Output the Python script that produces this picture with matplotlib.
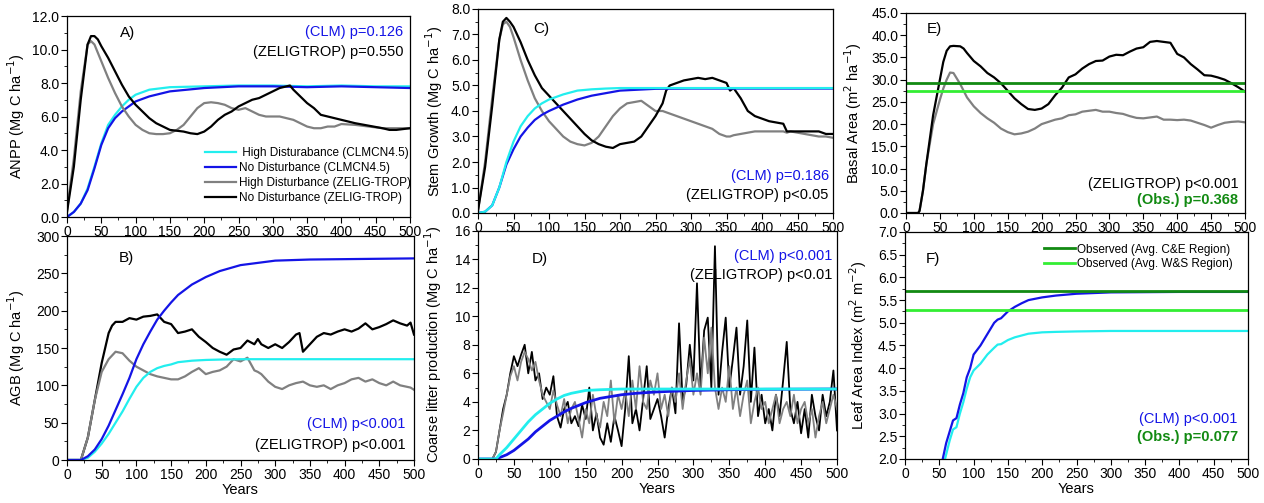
import numpy as np
import matplotlib.pyplot as plt
from matplotlib.ticker import MultipleLocator, FormatStrFormatter

plt.rcParams['font.family'] = ['Liberation Sans', 'DejaVu Sans']
plt.rcParams['font.size'] = 10

# colores de las series
c_cyan = '#22eeee'
c_blue = '#1414e6'
c_gray = '#808080'
c_black = '#000000'
c_dkgreen = '#128a12'
c_ltgreen = '#33ee33'

# ---------------- A) ANPP ----------------
a_yr_clm = [0, 10, 20, 30, 40, 50, 60, 70, 80, 90, 100, 120, 150, 200, 250, 300, 350, 400, 450, 500]
a_hi_clm = [0.0, 0.3, 0.8, 1.7, 3.0, 4.4, 5.5, 6.1, 6.6, 7.0, 7.3, 7.6, 7.75, 7.8, 7.85, 7.85, 7.8, 7.85, 7.8, 7.8]
a_no_clm = [0.0, 0.3, 0.8, 1.6, 2.9, 4.3, 5.3, 5.9, 6.3, 6.6, 6.9, 7.2, 7.5, 7.7, 7.8, 7.8, 7.75, 7.8, 7.75, 7.7]
a_yr_zel = [0, 10, 20, 30, 35, 40, 45, 50, 60, 70, 80, 90, 100, 110, 120, 130, 140, 150, 160, 170,
            180, 190, 200, 210, 220, 230, 240, 250, 260, 270, 280, 290, 300, 310, 320, 325, 330, 340,
            350, 360, 370, 380, 390, 400, 420, 440, 460, 470, 480, 500]
a_hi_zel = [0.4, 3.5, 7.5, 10.3, 10.5, 10.3, 9.8, 9.3, 8.3, 7.4, 6.6, 6.0, 5.5, 5.2, 5.0, 4.95, 4.95, 5.0, 5.2, 5.5,
            6.0, 6.5, 6.8, 6.85, 6.8, 6.7, 6.5, 6.4, 6.5, 6.3, 6.1, 6.0, 6.0, 6.0, 5.9, 5.85, 5.8, 5.6,
            5.4, 5.3, 5.3, 5.4, 5.4, 5.55, 5.5, 5.4, 5.3, 5.3, 5.3, 5.3]
a_no_zel = [0.3, 3.0, 7.0, 10.3, 10.8, 10.8, 10.6, 10.2, 9.5, 8.7, 7.9, 7.2, 6.7, 6.3, 5.9, 5.6, 5.4, 5.2, 5.15, 5.1,
            5.0, 4.95, 5.1, 5.4, 5.8, 6.1, 6.3, 6.6, 6.8, 7.0, 7.1, 7.3, 7.5, 7.7, 7.8, 7.85, 7.6, 7.2,
            6.8, 6.5, 6.1, 6.0, 5.9, 5.8, 5.6, 5.45, 5.3, 5.2, 5.2, 5.3]

# ---------------- B) AGB ----------------
b_yr_clm = [0, 20, 30, 40, 50, 60, 70, 80, 90, 100, 110, 120, 130, 140, 150, 160, 180, 200, 220, 250, 300, 350, 400, 500]
b_no_clm = [0, 0, 5, 14, 28, 46, 67, 88, 110, 135, 155, 172, 188, 200, 211, 221, 235, 245, 253, 261, 267, 268.5, 269, 270]
b_hi_clm = [0, 0, 3, 11, 22, 35, 50, 65, 82, 98, 110, 118, 123, 126, 128, 131, 133, 134, 134.5, 135, 135, 135, 135, 135]
b_yr_zel = [0, 20, 30, 40, 50, 60, 65, 70, 80, 90, 100, 110, 120, 130, 140, 150, 160, 170, 180, 190,
            200, 210, 220, 230, 240, 250, 260, 270, 275, 280, 290, 300, 310, 320, 330, 335, 340, 350, 360, 370,
            380, 390, 400, 410, 420, 430, 440, 450, 460, 470, 480, 490, 495, 500]
b_no_zel = [0, 0, 30, 80, 130, 170, 180, 185, 185, 190, 188, 192, 193, 195, 185, 182, 170, 172, 175, 165,
            158, 150, 145, 141, 148, 150, 160, 155, 162, 155, 150, 155, 150, 158, 168, 170, 145, 155, 165, 170,
            168, 172, 175, 172, 176, 183, 175, 178, 182, 187, 183, 180, 184, 168]
b_hi_zel = [0, 0, 30, 80, 118, 135, 140, 145, 143, 133, 125, 120, 115, 112, 110, 108, 108, 112, 118, 123,
            115, 118, 120, 125, 135, 132, 137, 120, 118, 115, 105, 98, 95, 100, 103, 104, 105, 100, 98, 100,
            95, 100, 103, 108, 110, 105, 108, 103, 100, 105, 100, 98, 97, 94]

# ---------------- C) Stem growth ----------------
c_yr_clm = [0, 10, 20, 30, 40, 50, 60, 70, 80, 90, 100, 120, 140, 160, 180, 200, 250, 300, 350, 400, 450, 500]
c_hi_clm = [0, 0.05, 0.3, 1.0, 2.0, 2.8, 3.4, 3.8, 4.1, 4.3, 4.45, 4.65, 4.8, 4.85, 4.88, 4.9, 4.9, 4.9, 4.9, 4.9, 4.9, 4.9]
c_no_clm = [0, 0.05, 0.3, 1.0, 1.9, 2.5, 3.0, 3.35, 3.65, 3.85, 4.0, 4.25, 4.45, 4.6, 4.7, 4.8, 4.87, 4.88, 4.88, 4.88, 4.88, 4.88]
c_yr_zel = [0, 10, 20, 30, 35, 40, 45, 50, 60, 70, 80, 90, 100, 110, 120, 130, 140, 150, 160, 170,
            180, 190, 200, 210, 220, 230, 240, 250, 260, 265, 270, 280, 290, 300, 310, 320, 330, 340, 350, 355,
            360, 370, 380, 390, 400, 410, 420, 430, 435, 440, 460, 480, 490, 500]
c_hi_zel = [0.1, 2.0, 4.5, 6.8, 7.4, 7.5, 7.3, 6.9, 6.0, 5.2, 4.5, 4.0, 3.6, 3.3, 3.0, 2.8, 2.7, 2.65, 2.75, 3.0,
            3.4, 3.8, 4.1, 4.3, 4.35, 4.4, 4.2, 4.0, 4.0, 3.95, 3.9, 3.8, 3.7, 3.6, 3.5, 3.4, 3.3, 3.1, 3.0, 3.0,
            3.05, 3.1, 3.15, 3.2, 3.2, 3.2, 3.2, 3.2, 3.15, 3.2, 3.1, 3.0, 3.0, 2.95]
c_no_zel = [0.1, 1.8, 4.2, 6.8, 7.5, 7.65, 7.5, 7.3, 6.7, 6.0, 5.4, 4.9, 4.6, 4.3, 4.0, 3.7, 3.4, 3.1, 2.85, 2.7,
            2.6, 2.55, 2.7, 2.75, 2.8, 3.0, 3.4, 3.8, 4.3, 4.8, 5.0, 5.1, 5.2, 5.25, 5.3, 5.25, 5.3, 5.2, 5.1, 4.8,
            4.9, 4.5, 4.0, 3.8, 3.7, 3.6, 3.55, 3.5, 3.2, 3.2, 3.2, 3.2, 3.1, 3.1]

# ---------------- D) Coarse litter ----------------
d_yr_clm = [0, 25, 30, 40, 50, 60, 70, 80, 90, 100, 110, 120, 130, 140, 150, 170, 200, 220, 250, 300, 350, 400, 500]
d_hi_clm = [0, 0, 0.3, 0.8, 1.4, 2.0, 2.6, 3.1, 3.5, 3.9, 4.2, 4.45, 4.6, 4.7, 4.8, 4.85, 4.9, 4.9, 4.9, 4.9, 4.9, 4.9, 4.9]
d_no_clm = [0, 0, 0.1, 0.3, 0.6, 1.0, 1.4, 1.9, 2.3, 2.7, 3.0, 3.3, 3.55, 3.75, 3.95, 4.25, 4.5, 4.6, 4.7, 4.8, 4.85, 4.88, 4.9]
d_yr_zel = list(range(0, 501, 5))
d_no_zel = [0, 0, 0, 0, 0, 0.5, 2.0, 3.5, 4.5, 6.0, 7.2, 6.5, 7.3, 8.0, 6.0, 7.5, 5.5, 6.0, 4.2, 5.0,
            4.5, 5.8, 3.0, 2.2, 3.5, 4.0, 2.5, 3.0, 2.3, 3.8, 2.8, 5.0, 2.0, 3.2, 1.5, 1.0, 2.5, 1.2, 3.0, 2.0,
            0.9, 3.5, 7.2, 2.5, 3.5, 2.0, 4.2, 6.5, 2.8, 3.5, 4.2, 3.0, 1.5, 3.5, 5.0, 3.2, 9.5, 4.0, 5.2, 8.0,
            5.5, 12.3, 5.0, 9.0, 9.9, 5.0, 14.9, 4.5, 7.5, 9.9, 5.0, 7.0, 9.2, 4.5, 6.5, 9.7, 4.0, 7.8, 3.0, 4.5,
            2.5, 3.5, 2.0, 4.5, 3.0, 5.5, 8.2, 3.5, 2.5, 4.0, 1.8, 3.5, 1.5, 4.5, 3.0, 2.0, 4.5, 3.0, 4.0, 6.2, 2.0]
d_hi_zel = [0, 0, 0, 0, 0, 0.5, 2.0, 3.2, 4.5, 5.8, 6.5, 5.5, 6.8, 7.5, 7.0, 6.2, 6.8, 5.5, 4.5, 4.0,
            3.5, 4.8, 3.8, 3.0, 4.2, 2.5, 3.5, 4.0, 2.8, 1.5, 3.5, 2.5, 4.5, 3.0, 2.2, 4.0, 3.0, 5.5, 2.5, 4.5,
            3.5, 4.8, 3.0, 5.5, 3.5, 6.5, 4.0, 3.5, 5.5, 4.5, 6.0, 3.5, 4.5, 3.0, 5.0, 4.0, 6.0, 3.5, 5.5, 7.0,
            4.5, 6.0, 4.5, 8.5, 6.0, 9.2, 5.0, 3.5, 5.0, 4.0, 6.5, 3.5, 5.0, 3.0, 4.5, 5.5, 2.5, 4.0, 5.0, 3.5,
            4.0, 2.5, 3.5, 4.5, 2.5, 3.5, 4.0, 3.0, 4.5, 2.5, 3.5, 4.0, 2.5, 3.5, 1.5, 3.0, 4.0, 2.5, 3.5, 4.5, 3.5]

# ---------------- E) Basal area ----------------
e_yr = [0, 18, 20, 25, 30, 40, 50, 55, 60, 65, 70, 80, 85, 90, 100, 110, 120, 130, 140, 150, 160, 170, 180, 190,
        200, 210, 220, 230, 240, 250, 260, 270, 280, 290, 300, 310, 320, 330, 340, 350, 360, 370, 380, 390,
        400, 410, 420, 430, 440, 450, 460, 470, 480, 490, 500]
e_no_zel = [0, 0, 0.5, 5, 11, 22, 30, 34, 36.5, 37.5, 37.6, 37.5, 37, 36, 34.2, 33, 31.5, 30.5, 29.2, 27.5, 25.8, 24.5, 23.4, 23.2,
            23.5, 24.5, 26.5, 28.2, 30.5, 31.2, 32.5, 33.5, 34.2, 34.3, 35.2, 35.6, 35.5, 36.3, 37, 37.3, 38.5, 38.7, 38.5, 38.3,
            35.8, 35, 33.5, 32.3, 31, 30.9, 30.5, 30, 29.2, 28.3, 27.3]
e_hi_zel = [0, 0, 0.5, 5, 11, 20, 25.5, 28, 30, 31.6, 31.5, 29, 27.5, 26, 24, 22.5, 21.3, 20.3, 19, 18.2, 17.7, 17.9, 18.3, 19,
            20, 20.5, 21, 21.3, 22, 22.2, 22.8, 23, 23.2, 22.8, 22.8, 22.5, 22.3, 21.8, 21.4, 21.3, 21.5, 21.7, 21.0, 21.0,
            20.9, 21.0, 20.8, 20.3, 19.8, 19.2, 19.8, 20.3, 20.5, 20.6, 20.4]
e_obs_ce = 29.2
e_obs_ws = 27.4

# ---------------- F) LAI ----------------
f_yr = [50, 55, 60, 65, 70, 75, 80, 85, 90, 95, 100, 110, 120, 130, 135, 140, 150, 160, 170, 180, 200, 220, 250, 300, 400, 500]
f_no_clm = [1.7, 2.0, 2.35, 2.6, 2.85, 2.9, 3.2, 3.45, 3.8, 4.0, 4.3, 4.5, 4.75, 5.0, 5.07, 5.1, 5.25, 5.35, 5.43, 5.5,
            5.56, 5.6, 5.64, 5.67, 5.68, 5.68]
f_hi_clm = [1.5, 1.8, 2.1, 2.4, 2.65, 2.7, 3.0, 3.25, 3.55, 3.8, 3.95, 4.1, 4.3, 4.45, 4.52, 4.53, 4.62, 4.68, 4.72, 4.76,
            4.79, 4.8, 4.81, 4.82, 4.82, 4.82]
f_obs_ce = 5.71
f_obs_ws = 5.29

W, H = 1264, 503
fig = plt.figure(figsize=(W / 100, H / 100), dpi=100)


def eje(l, b, r, t):
    # rectangulo en pixeles -> coordenadas de la figura
    return fig.add_axes([l / W, 1 - b / H, (r - l) / W, (b - t) / H])


def estilo(ax, ymin, ymax, ystep, fmt, ylabel, ylx, xlabel=False):
    ax.set_xlim(0, 500)
    ax.set_ylim(ymin, ymax)
    ax.xaxis.set_major_locator(MultipleLocator(50))
    ax.xaxis.set_minor_locator(MultipleLocator(25))
    ax.yaxis.set_major_locator(MultipleLocator(ystep))
    ax.yaxis.set_minor_locator(MultipleLocator(ystep / 2))
    ax.yaxis.set_major_formatter(FormatStrFormatter(fmt))
    ax.tick_params(which='major', direction='out', length=4, width=0.8, labelsize=10, pad=1.5)
    ax.tick_params(which='minor', direction='out', length=2, width=0.6)
    ax.set_ylabel(ylabel, fontsize=10.5)
    ax.yaxis.set_label_coords(ylx, 0.5)
    for s in ax.spines.values():
        s.set_linewidth(0.9)
    if xlabel:
        ax.set_xlabel('Years', fontsize=10.5, labelpad=1)


def notas(ax, letra, lx, ly, textos):
    ax.text(lx, ly, letra, transform=ax.transAxes, fontsize=11, ha='left', va='center')
    for x, y, s, col, bold in textos:
        ax.text(x, y, s, transform=ax.transAxes, fontsize=10.5, ha='right', va='center', color=col,
                fontweight='bold' if bold else 'normal')


lw = 1.6

# A
axA = eje(67, 217, 410, 16)
axA.plot(a_yr_clm, a_hi_clm, color=c_cyan, lw=lw, label=' High Disturabance (CLMCN4.5)')
axA.plot(a_yr_clm, a_no_clm, color=c_blue, lw=lw, label='No Disturbance (CLMCN4.5)')
axA.plot(a_yr_zel, a_hi_zel, color=c_gray, lw=lw, label='High Disturbance (ZELIG-TROP)')
axA.plot(a_yr_zel, a_no_zel, color=c_black, lw=lw, label='No Disturbance (ZELIG-TROP)')
estilo(axA, 0, 12, 2, '%.1f', 'ANPP (Mg C ha$^{-1}$)', -0.117)
axA.legend(loc='lower left', bbox_to_anchor=(0.39, 0.04), frameon=False, fontsize=8.5,
           handlelength=2.6, handletextpad=0.2, labelspacing=0.25, borderaxespad=0)
notas(axA, 'A)', 0.155, 0.915, [(0.98, 0.92, '(CLM) p=0.126', c_blue, False),
                                (0.98, 0.82, '(ZELIGTROP) p=0.550', 'black', False)])

# B
axB = eje(67, 460, 414, 236)
axB.plot(b_yr_zel, b_no_zel, color=c_black, lw=lw)
axB.plot(b_yr_zel, b_hi_zel, color=c_gray, lw=lw)
axB.plot(b_yr_clm, b_hi_clm, color=c_cyan, lw=lw)
axB.plot(b_yr_clm, b_no_clm, color=c_blue, lw=lw)
estilo(axB, 0, 300, 50, '%d', 'AGB (Mg C ha$^{-1}$)', -0.115, xlabel=True)
notas(axB, 'B)', 0.15, 0.90, [(0.975, 0.16, '(CLM) p<0.001', c_blue, False),
                              (0.975, 0.067, '(ZELIGTROP) p<0.001', 'black', False)])

# C
axC = eje(478, 213, 833, 9)
axC.plot(c_yr_zel, c_hi_zel, color=c_gray, lw=lw)
axC.plot(c_yr_zel, c_no_zel, color=c_black, lw=lw)
axC.plot(c_yr_clm, c_no_clm, color=c_blue, lw=lw)
axC.plot(c_yr_clm, c_hi_clm, color=c_cyan, lw=lw)
estilo(axC, 0, 8, 1, '%.1f', 'Stem Growth (Mg C ha$^{-1}$)', -0.093)
notas(axC, 'C)', 0.155, 0.90, [(0.988, 0.18, '(CLM) p=0.186', c_blue, False),
                               (0.988, 0.088, '(ZELIGTROP) p<0.05', 'black', False)])

# D
axD = eje(478, 459, 837, 230.5)
axD.plot(d_yr_zel, d_no_zel, color=c_black, lw=1.3)
axD.plot(d_yr_zel, d_hi_zel, color=c_gray, lw=1.3)
axD.plot(d_yr_clm, d_no_clm, color=c_blue, lw=lw + 0.4)
axD.plot(d_yr_clm, d_hi_clm, color=c_cyan, lw=lw + 0.4)
estilo(axD, 0, 16, 2, '%d', 'Coarse litter production (Mg C ha$^{-1}$)', -0.095, xlabel=True)
notas(axD, 'D)', 0.15, 0.876, [(0.986, 0.89, '(CLM) p<0.001', c_blue, False),
                               (0.986, 0.805, '(ZELIGTROP) p<0.01', 'black', False)])

# E
axE = eje(906, 213, 1245, 13)
axE.plot(e_yr, e_hi_zel, color=c_gray, lw=lw)
axE.plot(e_yr, e_no_zel, color=c_black, lw=lw)
axE.axhline(e_obs_ce, color=c_dkgreen, lw=2)
axE.axhline(e_obs_ws, color=c_ltgreen, lw=2)
estilo(axE, 0, 45, 5, '%.1f', 'Basal Area (m$^2$ ha$^{-1}$)', -0.124)
notas(axE, 'E)', 0.06, 0.92, [(0.98, 0.145, '(ZELIGTROP) p<0.001', 'black', False),
                              (0.98, 0.065, '(Obs.) p=0.368', c_dkgreen, True)])

# F
axF = eje(905, 459, 1248, 232)
axF.plot(f_yr, f_hi_clm, color=c_cyan, lw=lw)
axF.plot(f_yr, f_no_clm, color=c_blue, lw=lw)
axF.axhline(f_obs_ce, color=c_dkgreen, lw=2, label='Observed (Avg. C&E Region)')
axF.axhline(f_obs_ws, color=c_ltgreen, lw=2, label='Observed (Avg. W&S Region)')
estilo(axF, 2, 7, 0.5, '%.1f', 'Leaf Area Index (m$^2$ m$^{-2}$)', -0.105, xlabel=True)
axF.legend(loc='upper right', bbox_to_anchor=(0.97, 0.97), frameon=False, fontsize=8.5,
           handlelength=2.6, handletextpad=0.2, labelspacing=0.25, borderaxespad=0)
notas(axF, 'F)', 0.06, 0.88, [(0.97, 0.176, '(CLM) p<0.001', c_blue, False),
                              (0.97, 0.097, '(Obs.) p=0.077', c_dkgreen, True)])

fig.savefig('out.png', dpi=100)
